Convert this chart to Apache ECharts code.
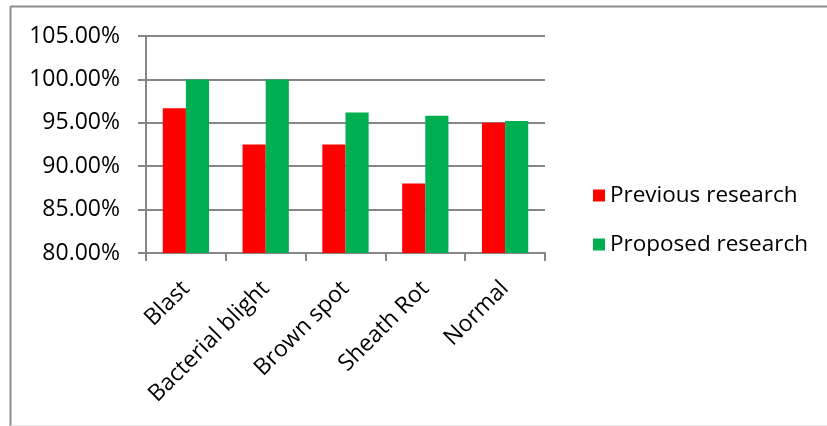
<!DOCTYPE html>
<html>
<head>
<meta charset="utf-8">
<script src="https://cdn.jsdelivr.net/npm/echarts@6/dist/echarts.min.js"></script>
<style>
  html, body { margin: 0; padding: 0; background: #ffffff; }
  #chart { width: 827px; height: 426px; }
</style>
</head>
<body>
<div id="chart"></div>
<script>
// Disease categories and detection accuracy (%) for each approach
const categories = ['Blast', 'Bacterial blight', 'Brown spot', 'Sheath Rot', 'Normal'];
const previousResearch = [96.67, 92.5, 92.5, 88.0, 95.0];
const proposedResearch = [100.0, 100.0, 96.2, 95.8, 95.2];
const seriesNames = ['Previous research', 'Proposed research'];
const yMin = 80, yMax = 105, yStep = 5;

const FONT = '"Open Sans", "Noto Sans", sans-serif';
const AXIS_GRAY = '#868686';

const chart = echarts.init(document.getElementById('chart'), null, { renderer: 'canvas' });

chart.setOption({
  backgroundColor: '#ffffff',
  animation: false,
  textStyle: { fontFamily: FONT },
  grid: { left: 146, right: 282, top: 36, bottom: 173, containLabel: false },
  legend: {
    orient: 'vertical',
    left: 588,
    top: 179,
    itemWidth: 12,
    itemHeight: 12,
    itemGap: 26,
    icon: 'rect',
    textStyle: { fontFamily: FONT, fontSize: 22.5, color: '#000000' },
    data: seriesNames
  },
  xAxis: {
    type: 'category',
    data: categories,
    axisLine: { show: true, lineStyle: { color: AXIS_GRAY, width: 2 } },
    axisTick: { show: true, length: 8, alignWithLabel: false, lineStyle: { color: AXIS_GRAY, width: 2 } },
    axisLabel: {
      rotate: 45,
      margin: 32,
      interval: 0,
      fontFamily: FONT,
      fontSize: 23,
      color: '#000000'
    },
    splitLine: { show: false }
  },
  yAxis: {
    type: 'value',
    min: yMin,
    max: yMax,
    interval: yStep,
    axisLine: { show: true, lineStyle: { color: AXIS_GRAY, width: 2 } },
    axisTick: { show: true, length: 8, lineStyle: { color: AXIS_GRAY, width: 2 } },
    axisLabel: {
      margin: 26,
      fontFamily: FONT,
      fontSize: 23,
      color: '#000000',
      formatter: (v) => v.toFixed(2) + '%'
    },
    splitLine: { show: true, lineStyle: { color: AXIS_GRAY, width: 2 } }
  },
  series: [
    {
      name: seriesNames[0],
      type: 'bar',
      data: previousResearch,
      itemStyle: { color: '#ff0000' },
      barGap: '0%',
      barCategoryGap: '42%'
    },
    {
      name: seriesNames[1],
      type: 'bar',
      data: proposedResearch,
      itemStyle: { color: '#00b050' },
      barGap: '0%',
      barCategoryGap: '42%'
    }
  ],
  graphic: [
    // chart area frame
    { type: 'line', shape: { x1: 10.5, y1: 6.5, x2: 827, y2: 6.5 }, style: { stroke: '#8c8c8c', lineWidth: 2 }, silent: true },
    { type: 'line', shape: { x1: 10.5, y1: 6.5, x2: 10.5, y2: 426 }, style: { stroke: '#8c8c8c', lineWidth: 2 }, silent: true },
    { type: 'line', shape: { x1: 10.5, y1: 425.5, x2: 827, y2: 425.5 }, style: { stroke: '#e6e6e6', lineWidth: 1 }, silent: true }
  ]
});
</script>
</body>
</html>
